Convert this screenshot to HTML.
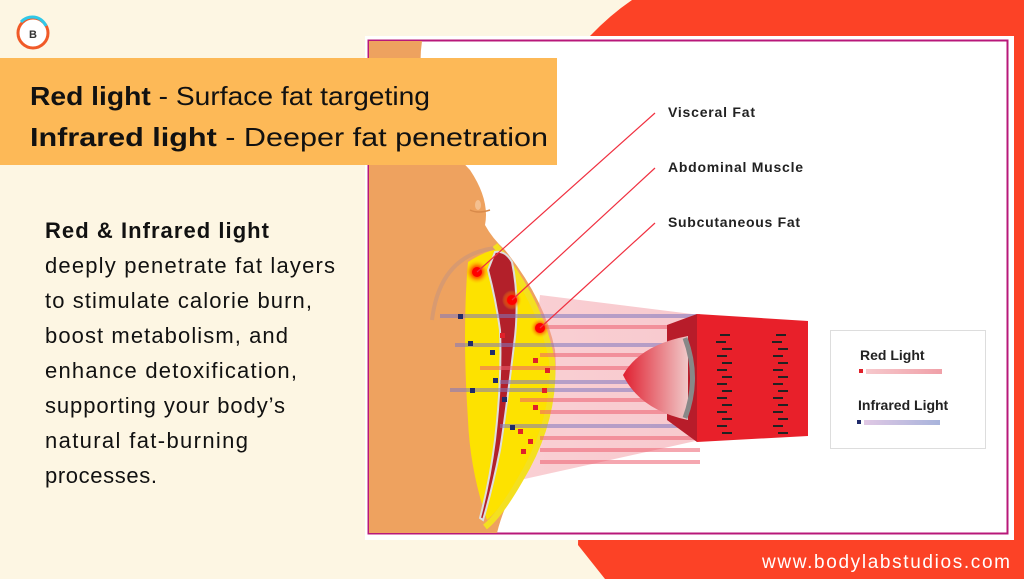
<!DOCTYPE html>
<html><head><meta charset="utf-8"><style>
body{margin:0;width:1024px;height:579px;overflow:hidden;background:#fdf6e3;font-family:"Liberation Sans",sans-serif;}
svg{position:absolute;left:0;top:0}
</style></head><body>
<svg width="1024" height="579" viewBox="0 0 1024 579" xmlns="http://www.w3.org/2000/svg">
<defs>
<linearGradient id="cone" x1="0" x2="1"><stop offset="0" stop-color="#f4a0a8" stop-opacity="0.5"/><stop offset="1" stop-color="#f3a5ad" stop-opacity="0.6"/></linearGradient>
<radialGradient id="glow"><stop offset="0" stop-color="#ff0000"/><stop offset="0.5" stop-color="#ff3a00" stop-opacity="0.7"/><stop offset="1" stop-color="#ffd000" stop-opacity="0"/></radialGradient>
<linearGradient id="lens" x1="0" x2="1"><stop offset="0" stop-color="#e02030"/><stop offset="1" stop-color="#f0c8c8"/></linearGradient>
<linearGradient id="lr" x1="0" x2="1"><stop offset="0" stop-color="#f6c8cc"/><stop offset="1" stop-color="#f0a0a8"/></linearGradient>
<linearGradient id="li" x1="0" x2="1"><stop offset="0" stop-color="#e0c8e4"/><stop offset="1" stop-color="#a8b4dc"/></linearGradient>
</defs>
<path d="M632,0 L1024,0 L1024,579 L605,579 L578,545 L590,36 Q610,15 632,0 Z" fill="#fc4226"/>
<rect x="365" y="36" width="649" height="504" fill="#fff"/>
<rect x="368.5" y="40.5" width="639" height="493" fill="none" stroke="#b8187a" stroke-width="2"/>
<path d="M369,41 L422,41 Q412,110 470,170 Q490,200 485,225 Q492,238 505,250 Q545,300 555,350 Q560,400 530,460 Q505,500 497,533 L369,533 Z" fill="#eea25f"/>
<path d="M470,210 Q478,214 490,210" stroke="#d88a4a" stroke-width="1.5" fill="none"/>
<ellipse cx="478" cy="205" rx="3" ry="5" fill="#f4c090"/>
<path d="M495,248 Q440,255 432,320" stroke="#d89a70" stroke-width="4" fill="none"/>
<polygon points="540,295 700,315 700,440 520,480" fill="url(#cone)"/>
<path d="M468,262 Q490,248 500,250 Q540,300 552,360 Q556,420 525,470 Q500,510 487,520 Q470,470 468,420 Q462,330 468,262 Z" fill="#fde200"/>
<path d="M495,245 Q540,300 552,360 Q556,420 520,480 Q500,515 485,527" stroke="#f4e020" stroke-width="6" fill="none"/>
<path d="M495,252 Q505,250 512,262 Q520,300 514,345 Q505,420 500,450 Q492,490 483,520 L480,518 Q490,480 495,440 Q502,380 500,330 Q496,300 488,270 Z" fill="#b3202a" stroke="#ddd" stroke-width="2"/>
<g stroke-width="4" opacity="0.55">
<line x1="440" y1="316" x2="700" y2="316" stroke="#8078c0"/>
<line x1="540" y1="327" x2="700" y2="327" stroke="#ee6070"/>
<line x1="455" y1="345" x2="700" y2="345" stroke="#8078c0"/>
<line x1="540" y1="355" x2="700" y2="355" stroke="#ee6070"/>
<line x1="480" y1="368" x2="700" y2="368" stroke="#ee6070"/>
<line x1="500" y1="382" x2="700" y2="382" stroke="#8078c0"/>
<line x1="450" y1="390" x2="700" y2="390" stroke="#8078c0"/>
<line x1="520" y1="400" x2="700" y2="400" stroke="#ee6070"/>
<line x1="540" y1="412" x2="700" y2="412" stroke="#ee6070"/>
<line x1="500" y1="426" x2="700" y2="426" stroke="#8078c0"/>
<line x1="540" y1="438" x2="700" y2="438" stroke="#ee6070"/>
<line x1="540" y1="450" x2="700" y2="450" stroke="#ee6070"/>
<line x1="540" y1="462" x2="700" y2="462" stroke="#ee6070"/>
</g>
<g fill="#1f2a6a">
<rect x="458" y="314" width="5" height="5"/><rect x="468" y="341" width="5" height="5"/><rect x="490" y="350" width="5" height="5"/><rect x="493" y="378" width="5" height="5"/><rect x="470" y="388" width="5" height="5"/><rect x="502" y="397" width="5" height="5"/><rect x="510" y="425" width="5" height="5"/>
</g>
<g fill="#e0202a">
<rect x="500" y="333" width="5" height="5"/><rect x="533" y="358" width="5" height="5"/><rect x="545" y="368" width="5" height="5"/><rect x="542" y="388" width="5" height="5"/><rect x="533" y="405" width="5" height="5"/><rect x="518" y="429" width="5" height="5"/><rect x="528" y="439" width="5" height="5"/><rect x="521" y="449" width="5" height="5"/>
</g>
<circle cx="477" cy="272" r="12" fill="url(#glow)"/><circle cx="477" cy="272" r="5" fill="#f00"/>
<circle cx="512" cy="300" r="10" fill="url(#glow)"/><circle cx="512" cy="300" r="5" fill="#f00"/>
<circle cx="540" cy="328" r="10" fill="url(#glow)"/><circle cx="540" cy="328" r="5" fill="#f00"/>
<g stroke="#f03040" stroke-width="1.2">
<line x1="655" y1="113" x2="477" y2="272"/><line x1="655" y1="168" x2="512" y2="300"/><line x1="655" y1="223" x2="540" y2="328"/>
</g>
<g font-family="Liberation Sans,sans-serif" font-weight="bold" font-size="14" fill="#222">
<text x="668" y="117" textLength="87">Visceral Fat</text><text x="668" y="172" textLength="135">Abdominal Muscle</text><text x="668" y="227" textLength="132">Subcutaneous Fat</text>
</g>
<polygon points="667,325 697,314 697,442 667,420" fill="#b81c2a"/>
<polygon points="697,314 808,321 808,436 697,442" fill="#e8202a"/>
<path d="M688,336 Q640,345 623,375 Q640,410 688,420 Z" fill="url(#lens)"/>
<path d="M685,338 Q700,378 685,418" stroke="#888" stroke-width="5" fill="none"/>
<g fill="#222">
<g id="col">
<rect x="720" y="334" width="10" height="2"/><rect x="716" y="341" width="10" height="2"/><rect x="722" y="348" width="10" height="2"/><rect x="717" y="355" width="10" height="2"/><rect x="722" y="362" width="10" height="2"/><rect x="717" y="369" width="10" height="2"/><rect x="722" y="376" width="10" height="2"/><rect x="717" y="383" width="10" height="2"/><rect x="722" y="390" width="10" height="2"/><rect x="717" y="397" width="10" height="2"/><rect x="722" y="404" width="10" height="2"/><rect x="717" y="411" width="10" height="2"/><rect x="722" y="418" width="10" height="2"/><rect x="717" y="425" width="10" height="2"/><rect x="722" y="432" width="10" height="2"/>
</g>
<use href="#col" x="56"/>
</g>
<rect x="830.5" y="330.5" width="155" height="118" fill="#fff" stroke="#ddd"/>
<text x="860" y="360" font-weight="bold" font-size="14" fill="#222">Red Light</text>
<rect x="859" y="369" width="4" height="4" fill="#e0202a"/><rect x="866" y="369" width="76" height="5" fill="url(#lr)"/>
<text x="858" y="410" font-weight="bold" font-size="14" fill="#222">Infrared Light</text>
<rect x="857" y="420" width="4" height="4" fill="#1f2a6a"/><rect x="864" y="420" width="76" height="5" fill="url(#li)"/>
<rect x="0" y="58" width="557" height="107" fill="#fdb957"/>
<text x="30" y="105" font-size="26" fill="#111" textLength="400" lengthAdjust="spacingAndGlyphs"><tspan font-weight="bold">Red light</tspan> - Surface fat targeting</text>
<text x="30" y="146" font-size="26" fill="#111" textLength="518" lengthAdjust="spacingAndGlyphs"><tspan font-weight="bold">Infrared light</tspan> - Deeper fat penetration</text>
<g font-size="22" fill="#111" lengthAdjust="spacingAndGlyphs">
<text x="45" y="238" font-weight="bold" textLength="224">Red &amp; Infrared light</text>
<text x="45" y="273" textLength="290">deeply penetrate fat layers</text>
<text x="45" y="308" textLength="267">to stimulate calorie burn,</text>
<text x="45" y="343" textLength="243">boost metabolism, and</text>
<text x="45" y="378" textLength="252">enhance detoxification,</text>
<text x="45" y="413" textLength="240">supporting your body’s</text>
<text x="45" y="448" textLength="203">natural fat-burning</text>
<text x="45" y="483" textLength="112">processes.</text>
</g>
<text x="762" y="568" font-size="19" fill="#fff" textLength="248">www.bodylabstudios.com</text>
<circle cx="33" cy="33" r="15" fill="#fff" stroke="#f05a28" stroke-width="3"/>
<path d="M21,22 A15,15 0 0 1 46,26" stroke="#30c8e8" stroke-width="3" fill="none"/>
<text x="29" y="38" font-size="11" font-weight="bold" fill="#333">B</text>
</svg>
</body></html>
